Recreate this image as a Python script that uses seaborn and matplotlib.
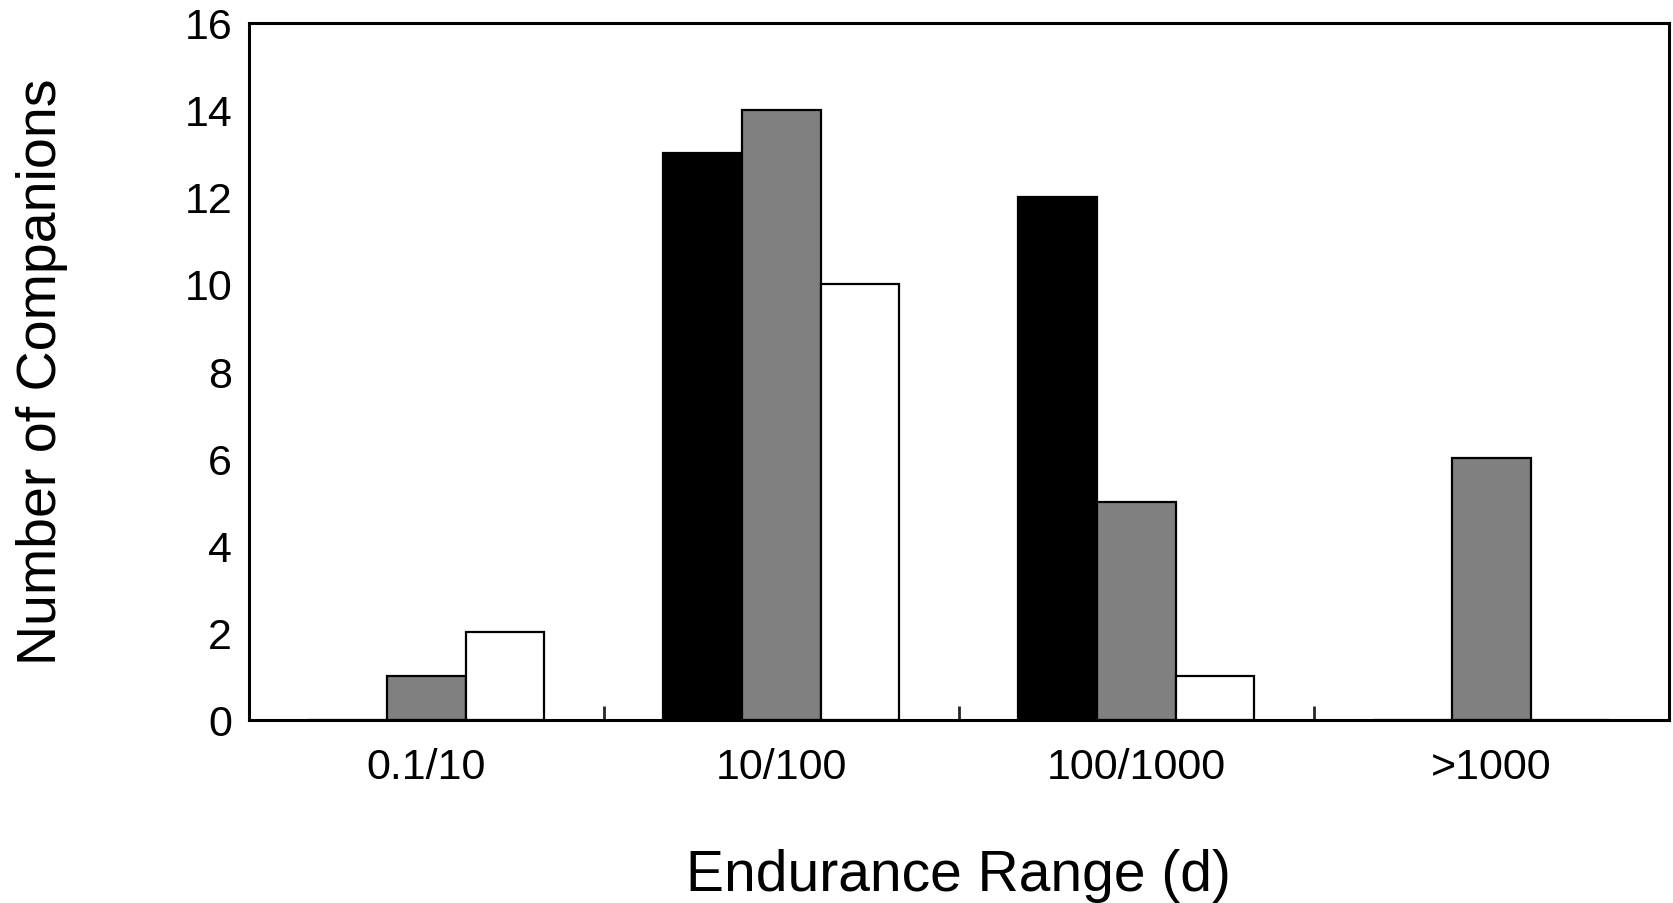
import matplotlib
matplotlib.use('Agg')
import matplotlib.pyplot as plt
import seaborn as sns
import pandas as pd

categories = ['0.1/10', '10/100', '100/1000', '>1000']
series_names = ['Series 1', 'Series 2', 'Series 3']
series_black = [0, 13, 12, 0]
series_gray = [1, 14, 5, 6]
series_white = [2, 10, 1, 0]
y_ticks = [0, 2, 4, 6, 8, 10, 12, 14, 16]

rows = []
for name, vals in zip(series_names, [series_black, series_gray, series_white]):
    for cat, v in zip(categories, vals):
        rows.append({'range': cat, 'series': name, 'count': v})
df = pd.DataFrame(rows)

sns.set_style('white')
plt.rcParams['font.family'] = ['Liberation Sans', 'DejaVu Sans']
plt.rcParams['text.color'] = 'black'
plt.rcParams['axes.labelcolor'] = 'black'

fig = plt.figure(figsize=(16.74, 9.04), dpi=100)
ax = fig.add_axes([0.1486, 0.2029, 0.8483, 0.7711])

sns.barplot(data=df, x='range', y='count', hue='series', order=categories,
            hue_order=series_names, palette=['black', '#808080', 'white'],
            saturation=1, width=0.665, gap=0, errorbar=None,
            edgecolor='black', linewidth=1.6, legend=False, ax=ax)

ax.set_xlim(-0.5, len(categories) - 0.5)
ax.set_ylim(0, 16)
ax.set_yticks(y_ticks)
ax.set_xticks([i + 0.5 for i in range(len(categories) - 1)], minor=True)

for s in ax.spines.values():
    s.set_visible(True)
    s.set_color('black')
    s.set_linewidth(2.2)

ax.tick_params(axis='y', which='major', direction='in', length=9, width=2,
               labelsize=31, pad=12, colors='black')
ax.tick_params(axis='x', which='major', length=0, labelsize=31, pad=20, colors='black')
ax.tick_params(axis='x', which='minor', direction='in', length=10, width=2, bottom=True)

ax.set_xlabel('Endurance Range (d)', fontsize=41, labelpad=44, color='black')
ax.set_ylabel('Number of Companions', fontsize=40, labelpad=84, color='black')

fig.savefig('out.png', dpi=100)
